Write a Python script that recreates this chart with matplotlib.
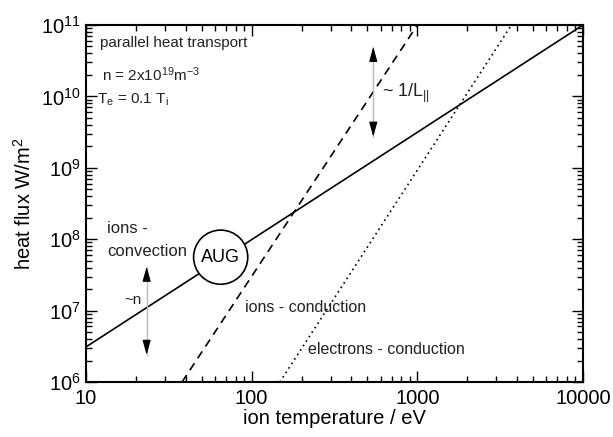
import numpy as np
import matplotlib
matplotlib.use('Agg')
import matplotlib.pyplot as plt
from matplotlib.ticker import LogLocator, FixedLocator, FixedFormatter

plt.rcParams['font.family'] = ['Liberation Sans', 'DejaVu Sans']
plt.rcParams['mathtext.fontset'] = 'custom'
plt.rcParams['mathtext.rm'] = 'Liberation Sans'
plt.rcParams['mathtext.it'] = 'Liberation Sans'

# end points of the scaling lines (T in eV, q in W/m^2)
T_conv = [10, 10000]
q_conv = [3.1e6, 1e11]
T_ion_cond = [38, 1000]
q_ion_cond = [1e6, 1e11]
T_el_cond = [148, 3700]
q_el_cond = [1e6, 1e11]

xticks = [10, 100, 1000, 10000]
xticklabels = ['10', '100', '1000', '10000']
yticks = [1e6, 1e7, 1e8, 1e9, 1e10, 1e11]
yticklabels = [r'$10^{%d}$' % e for e in range(6, 12)]

fig = plt.figure(figsize=(6.13, 4.37), dpi=100)
ax = fig.add_axes([86/613, 1-382/437, 497/613, 357/437])

ax.plot(T_conv, q_conv, color='black', lw=1.2, zorder=2)
ax.plot(T_ion_cond, q_ion_cond, color='black', lw=1.2, ls=(0, (5, 3.5)), zorder=2)
ax.plot(T_el_cond, q_el_cond, color='black', lw=1.2, ls=(0, (1, 2.2)), zorder=2)

ax.set_xscale('log')
ax.set_yscale('log')
ax.set_xlim(10, 10000)
ax.set_ylim(1e6, 1e11)

ax.xaxis.set_major_locator(FixedLocator(xticks))
ax.xaxis.set_major_formatter(FixedFormatter(xticklabels))
ax.yaxis.set_major_locator(FixedLocator(yticks))
ax.yaxis.set_major_formatter(FixedFormatter(yticklabels))
ax.xaxis.set_minor_locator(LogLocator(base=10, subs=np.arange(2, 10)))
ax.yaxis.set_minor_locator(LogLocator(base=10, subs=np.arange(2, 10)))
ax.xaxis.set_minor_formatter(plt.NullFormatter())
ax.yaxis.set_minor_formatter(plt.NullFormatter())

ax.tick_params(which='both', direction='in', top=True, right=True, width=1.0)
ax.tick_params(which='major', length=8, labelsize=14.5)
ax.tick_params(axis='x', which='major', pad=5)
ax.tick_params(axis='y', which='major', pad=4)
ax.tick_params(which='minor', length=4)
for s in ax.spines.values():
    s.set_linewidth(1.5)

ax.set_xlabel('ion temperature / eV', fontsize=14.5, labelpad=1)
ax.set_ylabel('heat flux W/m$^2$', fontsize=14.5, labelpad=4)

# annotations
tc = dict(transform=ax.transAxes, fontsize=11, color='#222222', va='center')
ax.text(0.028, 0.95, 'parallel heat transport', **tc)
ax.text(0.032, 0.86, r'n = 2x10$^{19}$m$^{-3}$', **tc)
ax.text(0.022, 0.79, r'T$_\mathrm{e}$ = 0.1 T$_\mathrm{i}$', **tc)
ax.text(0.042, 0.431, 'ions -', **dict(tc, fontsize=12))
ax.text(0.042, 0.365, 'convection', **dict(tc, fontsize=12))
ax.text(0.078, 0.23, '~n', **tc)
ax.text(0.595, 0.809, r'~ 1/L$_{||}$', **dict(tc, fontsize=13))
ax.text(0.32, 0.21, 'ions - conduction', **dict(tc, fontsize=11.5))
ax.text(0.447, 0.092, 'electrons - conduction', **dict(tc, fontsize=11.5))

ax.text(65, 5.6e7, 'AUG', fontsize=13, ha='center', va='center', zorder=3,
        bbox=dict(boxstyle='circle,pad=0.42', fc='white', ec='black', lw=1.2))

# double arrows: thin grey shaft with black heads
for x, y0, y1 in [(0.122, 0.076, 0.323), (0.578, 0.687, 0.939)]:
    ax.plot([x, x], [y0, y1], transform=ax.transAxes, color='#bbbbbb', lw=1.0)
    for ya, yb in [(y1 - 0.03, y1), (y0 + 0.03, y0)]:
        ax.annotate('', xy=(x, yb), xytext=(x, ya), xycoords='axes fraction',
                    arrowprops=dict(arrowstyle='-|>,head_length=0.9,head_width=0.25',
                                    color='black', lw=0.8, shrinkA=0, shrinkB=0))

fig.savefig('out.png', dpi=100)
